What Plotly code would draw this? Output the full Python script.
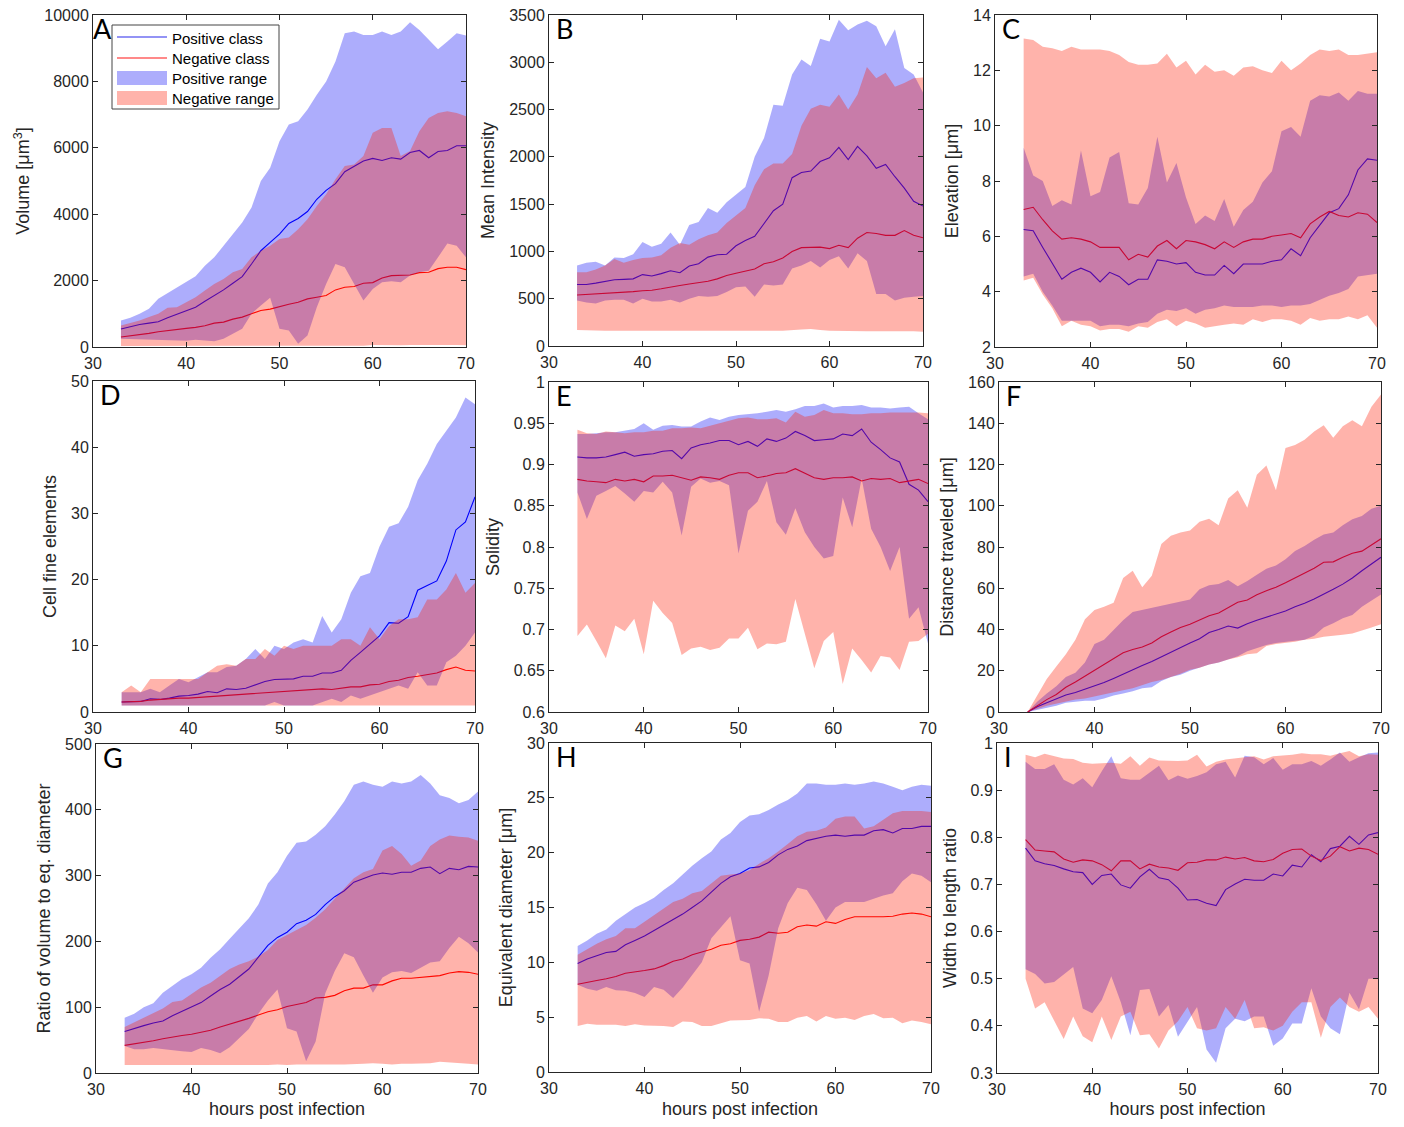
import plotly.graph_objects as go

hours = list(range(33, 71))

# ---- Panel A: Volume ----
A_pos_mean = [540,620,680,720,760,880,980,1080,1200,1380,1550,1720,1920,2120,2500,2900,3150,3400,3720,3870,4080,4450,4720,4920,5280,5450,5600,5680,5620,5700,5660,5860,5920,5700,5890,5920,6060,6060]
A_neg_mean = [300,330,370,410,460,500,520,560,590,640,720,750,840,900,1000,1100,1140,1220,1290,1350,1450,1500,1550,1720,1800,1820,1920,1940,2080,2150,2160,2170,2240,2250,2360,2400,2400,2330]
A_pos_hi = [800,880,1000,1150,1450,1620,1800,1950,2130,2450,2700,3050,3400,3750,4200,5000,5400,6200,6700,6800,7150,7600,8000,8600,9450,9500,9400,9400,9500,9400,9500,9780,9550,9250,8970,9200,9450,9380]
A_pos_lo = [250,240,230,240,220,210,200,190,220,200,170,250,400,550,1000,1250,1480,550,500,100,350,1200,1900,2500,2400,1900,1400,1750,1950,1980,1950,2150,2250,2300,2700,3120,3050,2700]
A_neg_hi = [650,720,800,900,1000,1180,1200,1350,1500,1700,1900,2050,2250,2350,2700,2900,3050,3250,3300,3550,3850,4250,4600,5050,5450,5500,5750,6450,6600,6600,5750,5900,6500,6900,7050,7100,7050,6950]
A_neg_lo = [30,30,30,30,30,30,30,30,30,30,30,30,30,30,30,30,30,40,40,40,50,40,40,40,40,40,40,60,60,60,50,60,60,80,70,60,60,50]

# ---- Panel B: Mean Intensity ----
B_pos_mean = [650,650,665,685,700,705,710,755,740,765,795,775,845,870,940,965,970,1060,1115,1160,1300,1430,1500,1780,1835,1850,1950,1990,2100,1970,2110,2010,1880,1920,1790,1670,1530,1480]
B_neg_mean = [540,545,550,555,560,565,575,585,590,605,625,640,655,670,685,710,745,770,790,815,870,890,930,1000,1040,1045,1045,1030,1065,1040,1140,1200,1190,1170,1170,1220,1170,1145]
B_pos_hi = [850,880,890,850,935,930,970,1100,1050,1080,1200,1070,1280,1310,1460,1410,1520,1600,1680,2000,2200,2550,2540,2870,3030,2960,3250,3220,3450,3340,3400,3440,3380,3170,3350,2940,2870,2680]
B_pos_lo = [480,460,450,480,490,490,450,500,470,470,490,460,500,530,520,530,570,620,630,520,650,640,650,820,850,900,830,910,950,820,980,900,550,550,480,510,520,530]
B_neg_hi = [780,780,810,850,920,880,910,930,935,960,1040,1090,1070,1130,1170,1200,1300,1380,1460,1700,1870,1930,1930,2030,2330,2510,2550,2530,2660,2500,2660,2950,2830,2890,2740,2780,2830,2840]
B_neg_lo = [170,168,165,160,160,158,158,160,160,158,158,157,157,158,158,155,157,157,160,160,160,160,162,165,175,180,170,160,160,158,157,155,155,155,155,155,157,152]

# ---- Panel C: Elevation ----
C_pos_mean = [6.25,6.2,5.6,5.0,4.45,4.7,4.85,4.7,4.35,4.7,4.55,4.25,4.45,4.45,5.15,5.1,5.0,5.05,4.7,4.6,4.6,4.95,4.65,5.0,5.0,5.0,5.1,5.15,5.55,5.3,5.95,6.4,6.85,7.0,7.5,8.4,8.8,8.75]
C_neg_mean = [6.97,7.05,6.6,6.2,5.9,5.95,5.9,5.8,5.6,5.6,5.6,5.15,5.35,5.25,5.65,5.85,5.55,5.85,5.8,5.7,5.55,5.8,5.6,5.8,5.9,5.9,6.0,6.05,6.1,5.95,6.45,6.7,6.9,6.75,6.7,6.85,6.8,6.5]
C_pos_hi = [9.2,8.2,8.0,7.1,7.3,7.15,9.1,7.45,7.6,8.85,9.05,7.2,7.15,7.75,9.6,7.95,8.65,7.4,6.45,6.75,6.55,7.35,6.35,6.95,7.25,7.95,8.35,9.8,9.95,9.6,10.9,11.1,11.05,11.2,10.9,11.25,11.15,11.15]
C_pos_lo = [4.55,4.65,4.0,3.5,2.95,2.95,2.95,2.95,2.75,2.8,2.8,2.75,2.85,2.9,3.2,3.35,3.3,3.4,3.2,3.35,3.4,3.5,3.45,3.45,3.45,3.5,3.5,3.45,3.5,3.5,3.55,3.7,3.85,3.95,4.1,4.55,4.6,4.65]
C_neg_hi = [13.15,13.1,12.85,12.8,12.7,12.85,12.75,12.75,12.75,12.7,12.55,12.3,12.2,12.2,12.25,12.6,12.1,12.35,11.85,12.2,11.95,12.0,11.8,12.1,12.15,12.0,11.9,12.35,12.0,12.25,12.55,12.75,12.7,12.75,12.55,12.55,12.6,12.65]
C_neg_lo = [4.4,4.5,3.9,3.4,2.75,2.95,2.8,2.75,2.6,2.65,2.65,2.55,2.75,2.7,2.9,3.0,2.75,2.95,2.85,2.7,2.75,2.8,2.85,2.8,3.0,2.9,3.0,3.0,2.95,2.8,3.05,2.95,3.0,3.0,3.1,3.0,3.15,2.7]

# ---- Panel D: Cell fine elements ----
D_pos_mean = [1.5,1.5,1.6,2.0,1.9,2.1,2.4,2.5,2.7,3.1,2.9,3.5,3.4,3.6,4.1,4.6,4.9,4.9,5.0,5.4,5.4,5.9,5.9,6.3,7.8,9.0,10.2,11.5,13.5,13.4,14.4,18.4,19.1,19.8,22.8,27.5,28.7,32.5]
D_neg_mean = [1.5,1.5,1.6,1.8,1.9,2.1,2.1,2.1,2.2,2.3,2.5,2.6,2.6,2.7,2.9,2.9,3.1,3.2,3.2,3.3,3.5,3.5,3.4,3.6,3.8,3.8,4.1,4.2,4.6,4.8,5.2,5.4,5.6,5.9,6.4,6.8,6.3,6.2]
D_pos_hi = [3,3,3,3.5,3,4,5,4.5,5.2,6,6,6.8,7,8,9.5,8,10,9.5,10.5,11,10.5,14.5,12,14,18,20.5,21,25,28,28.5,31,35,37.5,40.5,42.5,44.5,47.5,46.5]
D_pos_lo = [1,1,1,1,1,1,1,1,1,1,1,1,1,1,1,1,1.5,1,1,1,1,1.5,2,1.5,2.5,2,2.5,3,3.5,4,3.5,6,4,4,7.5,8.5,10,12]
D_neg_hi = [3,4,3,5,5,5,5,5,5,6,7,7.2,7,8,8,9.5,8.5,10,9.5,10,10,10,10,11,11,10,12.8,11,13,14,14,14.3,17,17,18.5,21,18,19.5]
D_neg_lo = [1,1,1,1,1,1,1,1,1,1,1,1,1,1,1,1,1,1,1,1,1,1,1,1,1,1,1,1,1,1,1,1,1,1,1,1,1,1]

# ---- Panel E: Solidity ----
E_pos_mean = [.909,.908,.908,.909,.912,.915,.910,.912,.913,.916,.917,.907,.920,.924,.926,.929,.929,.924,.928,.922,.931,.928,.932,.940,.935,.929,.930,.931,.937,.935,.943,.927,.918,.908,.903,.876,.869,.855]
E_neg_mean = [.882,.880,.879,.878,.882,.880,.882,.879,.886,.886,.887,.884,.881,.885,.884,.882,.887,.890,.890,.884,.886,.889,.890,.895,.889,.884,.882,.884,.884,.885,.880,.883,.882,.883,.878,.880,.882,.877]
E_pos_hi = [.937,.937,.938,.939,.939,.941,.943,.950,.942,.947,.948,.946,.946,.952,.957,.954,.958,.960,.961,.962,.964,.966,.964,.967,.971,.971,.974,.969,.971,.971,.972,.969,.969,.968,.969,.970,.962,.955]
E_pos_lo = [.866,.834,.862,.868,.874,.865,.855,.868,.866,.879,.866,.814,.873,.883,.878,.880,.875,.792,.844,.855,.880,.830,.815,.847,.818,.800,.786,.789,.860,.824,.883,.822,.800,.771,.800,.713,.727,.683]
E_neg_hi = [.942,.938,.937,.940,.939,.938,.939,.939,.941,.941,.944,.944,.945,.944,.947,.950,.953,.956,.957,.955,.955,.956,.951,.964,.958,.960,.966,.962,.962,.961,.961,.962,.962,.963,.963,.963,.963,.962]
E_neg_lo = [.692,.706,.686,.665,.705,.698,.713,.670,.735,.720,.708,.669,.677,.679,.675,.678,.689,.689,.702,.676,.683,.682,.685,.737,.695,.653,.686,.697,.634,.677,.663,.648,.668,.666,.651,.685,.686,.695]

# ---- Panel F: Distance traveled ----
F_pos_mean = [0,2.5,4.5,6.5,8.2,9.5,11,12.7,14.3,16.3,18.5,20.5,22.5,24.5,26.8,29,31.5,33.5,35.5,38.5,40,41.7,40.7,42.8,44.5,46,47.6,49,51,52.7,54.8,57,59.5,62,65,68.5,71.7,75]
F_neg_mean = [0,3,6,8.5,12,14.5,17.3,20.5,23,25.7,28.7,30.3,31.5,33.5,36.5,38.8,41,42.5,44.8,46.7,48,50.5,53.2,54.3,56.8,58.8,60.5,62.7,65,67,69.7,72.6,72.8,75,77,78,81,84]
F_pos_hi = [0,5,9,12.5,17,19,24,33,35,40,44.5,48.5,49.5,50.5,51.5,52.5,53.5,54.5,59.5,61.5,62,64,61,63.5,66.5,69.5,71,74,78,80.5,83.5,86,87,90.5,93.5,95,98.5,100]
F_pos_lo = [0,1,2,3,4.5,5,5.5,5.5,6.5,8,9,10,11.5,12,15,17,18,20,21.5,23,24,25.5,27,29.5,31,32.5,33.5,34,34.5,35,37,41,43,45.5,47,51,54,57]
F_neg_hi = [0,8,16,22,28,35,45,49.5,51,53,65,68.5,60.5,66,81.5,85.5,87,88,92.3,93.7,90.5,103.5,107.5,99,115,119.5,107.5,128,129.5,132,136,139,133,138.5,141.5,138.5,148,154]
F_neg_lo = [0,1.5,3,4,5,6,6.5,7.5,8.5,9.5,10.5,11.5,13,14.5,15.5,17,18.5,20.5,21.5,23,24,25.5,26.5,28,28.5,32,33,33.5,34,35,35.5,36.5,37,37.5,38,39.5,41,42.5]

# ---- Panel G: Ratio of volume to eq. diameter ----
G_pos_mean = [63,68,72,76,79,87,94,100,107,117,127,135,147,158,176,194,206,214,227,232,241,256,268,277,290,295,301,304,302,305,305,311,313,303,311,309,314,313]
G_neg_mean = [42,44,47,49,52,55,57,59,62,65,70,74,79,83,88,93,96,101,104,107,114,115,118,125,129,129,134,134,140,144,144,145,147,148,152,154,153,150]
G_pos_hi = [84,90,100,106,122,133,143,150,160,175,188,204,220,235,256,288,305,330,350,352,362,375,393,413,438,443,438,435,443,440,443,453,440,422,418,410,415,428]
G_pos_lo = [41,36,36,38,36,35,33,32,38,35,30,39,53,67,90,110,127,68,63,18,48,121,155,182,176,148,122,145,153,155,152,160,168,170,190,207,197,183]
G_neg_hi = [70,77,85,91,98,108,110,120,130,137,148,158,165,170,177,187,202,210,217,225,236,249,265,280,296,305,310,338,345,333,315,323,345,355,361,359,358,353]
G_neg_lo = [12,13,12,12,13,12,12,13,12,13,12,12,13,13,12,12,13,12,13,13,14,13,13,13,13,14,15,14,13,14,14,14,15,17,15,15,14,13]

# ---- Panel H: Equivalent diameter ----
H_pos_mean = [9.9,10.3,10.6,10.9,11.0,11.6,12.0,12.4,12.9,13.4,13.9,14.4,15.0,15.6,16.4,17.2,17.8,18.1,18.6,18.7,19.1,19.8,20.3,20.6,21.1,21.3,21.5,21.6,21.5,21.6,21.6,22.0,22.1,21.8,22.2,22.2,22.4,22.4]
H_neg_mean = [8.0,8.2,8.35,8.5,8.7,9.0,9.1,9.25,9.4,9.7,10.1,10.3,10.7,10.95,11.2,11.55,11.7,12.0,12.1,12.3,12.75,12.65,12.75,13.25,13.4,13.3,13.7,13.55,13.9,14.15,14.15,14.1,14.15,14.2,14.4,14.5,14.4,14.15]
H_pos_hi = [11.5,12.0,12.6,13.0,13.8,14.4,15.0,15.4,15.9,16.6,17.2,18.0,18.8,19.5,20.1,21.2,21.8,22.8,23.4,23.5,23.9,24.4,24.8,25.4,26.3,26.3,26.2,26.2,26.3,26.2,26.3,26.5,26.3,26.0,25.7,26.0,26.2,26.1]
H_pos_lo = [7.95,7.6,7.4,7.75,7.45,7.4,7.2,6.85,7.75,7.5,6.75,7.7,8.9,10.0,12.2,13.2,14.2,10.2,9.9,5.5,8.8,13.1,15.4,16.8,16.6,15.3,13.8,15.0,15.5,15.5,15.5,15.8,16.1,16.3,17.4,18.1,17.9,17.3]
H_neg_hi = [10.7,11.2,11.7,12.1,12.4,13.1,13.1,13.7,14.3,14.9,15.5,15.8,16.3,16.5,17.2,17.9,18.0,18.1,18.4,19.0,19.5,20.1,20.8,21.5,21.9,22.0,22.3,23.1,23.3,23.3,22.2,22.4,23.0,23.6,23.8,23.8,23.8,23.7]
H_neg_lo = [4.2,4.4,4.3,4.3,4.3,4.2,4.35,4.25,4.2,4.2,4.1,4.6,4.55,4.2,4.2,4.45,4.7,4.7,4.75,4.9,4.85,4.55,4.55,4.95,5.1,4.6,5.1,4.85,4.95,4.75,5.1,5.3,4.9,4.95,4.45,4.7,4.55,4.35]

# ---- Panel I: Width to length ratio ----
I_pos_mean = [.777,.750,.744,.740,.733,.727,.725,.700,.719,.722,.699,.692,.716,.732,.714,.710,.692,.667,.668,.660,.655,.689,.701,.711,.709,.709,.722,.718,.741,.737,.763,.748,.776,.781,.802,.785,.805,.810]
I_neg_mean = [.795,.773,.771,.769,.754,.747,.752,.750,.742,.729,.750,.750,.733,.743,.737,.735,.730,.746,.747,.752,.752,.758,.754,.757,.750,.748,.753,.766,.774,.775,.760,.751,.760,.780,.771,.777,.774,.764]
I_pos_hi = [.960,.945,.945,.955,.922,.912,.925,.906,.940,.972,.925,.922,.922,.937,.952,.921,.931,.924,.930,.938,.955,.960,.927,.973,.970,.955,.968,.943,.955,.955,.962,.952,.965,.980,.960,.970,.978,.980]
I_pos_lo = [.52,.51,.49,.493,.51,.525,.437,.427,.455,.505,.45,.38,.476,.478,.42,.444,.377,.407,.44,.35,.322,.395,.415,.41,.42,.42,.358,.373,.405,.405,.48,.42,.395,.382,.47,.435,.50,.50]
I_neg_hi = [.975,.970,.977,.972,.967,.966,.958,.956,.957,.958,.956,.972,.952,.969,.963,.962,.962,.963,.975,.950,.960,.965,.968,.970,.972,.965,.972,.973,.975,.978,.976,.976,.973,.978,.983,.972,.976,.975]
I_neg_lo = [.50,.437,.45,.41,.372,.42,.378,.365,.42,.37,.42,.43,.38,.382,.352,.39,.41,.44,.395,.39,.395,.44,.415,.455,.395,.397,.39,.40,.43,.45,.45,.375,.44,.46,.44,.43,.44,.415]

legend_labels = ["Positive class", "Negative class", "Positive range", "Negative range"]

panels = [
    ("A", "Volume [μm<sup>3</sup>]", [0, 10000], 2000, "d", A_pos_mean, A_neg_mean, A_pos_lo, A_pos_hi, A_neg_lo, A_neg_hi),
    ("B", "Mean Intensity", [0, 3500], 500, "d", B_pos_mean, B_neg_mean, B_pos_lo, B_pos_hi, B_neg_lo, B_neg_hi),
    ("C", "Elevation [μm]", [2, 14], 2, "d", C_pos_mean, C_neg_mean, C_pos_lo, C_pos_hi, C_neg_lo, C_neg_hi),
    ("D", "Cell fine elements", [0, 50], 10, "d", D_pos_mean, D_neg_mean, D_pos_lo, D_pos_hi, D_neg_lo, D_neg_hi),
    ("E", "Solidity", [0.6, 1], 0.05, "", E_pos_mean, E_neg_mean, E_pos_lo, E_pos_hi, E_neg_lo, E_neg_hi),
    ("F", "Distance traveled [μm]", [0, 160], 20, "d", F_pos_mean, F_neg_mean, F_pos_lo, F_pos_hi, F_neg_lo, F_neg_hi),
    ("G", "Ratio of volume to eq. diameter", [0, 500], 100, "d", G_pos_mean, G_neg_mean, G_pos_lo, G_pos_hi, G_neg_lo, G_neg_hi),
    ("H", "Equivalent diameter [μm]", [0, 30], 5, "d", H_pos_mean, H_neg_mean, H_pos_lo, H_pos_hi, H_neg_lo, H_neg_hi),
    ("I", "Width to length ratio", [0.3, 1], 0.1, "", I_pos_mean, I_neg_mean, I_pos_lo, I_pos_hi, I_neg_lo, I_neg_hi),
]

# page has an 8px body margin; figure is sized so that the page is exactly 1404x1127
OFF = 8
W, H = 1404 - 2 * OFF, 1127 - 2 * OFF
# axes boxes in screen pixels (left, right, top, bottom)
boxes = [
    (93, 466, 15, 347), (549, 923, 15, 346), (995, 1377, 15, 347),
    (93, 475, 381, 712), (549, 928, 382, 712), (999, 1381, 382, 712),
    (96, 478, 744, 1073), (549, 931, 743, 1072), (997, 1378, 743, 1073),
]
def fx(px):
    return (px - OFF) / W
def fy(py):
    return 1 - (py - OFF) / H

POS_LINE = "rgb(0,0,255)"
NEG_LINE = "rgb(255,0,0)"
POS_FILL = "rgba(0,0,245,0.32)"
NEG_FILL = "rgba(255,25,0,0.33)"
FONT = "Liberation Sans, Arial, sans-serif"
AX = "#262626"

fig = go.Figure()
layout = {}
annotations = []
shapes = []
for i, (letter, ytitle, yr, dt, tf, pm, nm, plo, phi, nlo, nhi) in enumerate(panels):
    k = i + 1
    xa = "x" if k == 1 else f"x{k}"
    ya = "y" if k == 1 else f"y{k}"
    fig.add_trace(go.Scatter(x=hours, y=pm, mode="lines", line=dict(color=POS_LINE, width=1.1),
                             name=legend_labels[0], showlegend=False, xaxis=xa, yaxis=ya, hoverinfo="skip"))
    fig.add_trace(go.Scatter(x=hours, y=nm, mode="lines", line=dict(color=NEG_LINE, width=1.1),
                             name=legend_labels[1], showlegend=False, xaxis=xa, yaxis=ya, hoverinfo="skip"))
    fig.add_trace(go.Scatter(x=hours + hours[::-1], y=phi + plo[::-1], mode="lines", fill="toself",
                             fillcolor=POS_FILL, line=dict(width=0, color=POS_FILL),
                             name=legend_labels[2], showlegend=False, xaxis=xa, yaxis=ya, hoverinfo="skip"))
    fig.add_trace(go.Scatter(x=hours + hours[::-1], y=nhi + nlo[::-1], mode="lines", fill="toself",
                             fillcolor=NEG_FILL, line=dict(width=0, color=NEG_FILL),
                             name=legend_labels[3], showlegend=False, xaxis=xa, yaxis=ya, hoverinfo="skip"))
    l, r, t, b = boxes[i]
    xkey = "xaxis" if k == 1 else f"xaxis{k}"
    ykey = "yaxis" if k == 1 else f"yaxis{k}"
    xdict = dict(domain=[fx(l), fx(r)], anchor=ya, range=[30, 70], dtick=10, tick0=30,
                 ticks="inside", ticklen=5, tickcolor=AX, mirror="allticks", showline=True,
                 linecolor=AX, linewidth=1, showgrid=False, zeroline=False, automargin=False,
                 ticklabeloverflow="allow", ticklabelstandoff=2,
                 tickfont=dict(size=16, color=AX, family=FONT))
    if k >= 7:
        xdict["title"] = dict(text="hours post infection",
                              font=dict(size=18, color=AX, family=FONT), standoff=17)
    layout[xkey] = xdict
    ydict = dict(domain=[fy(b), fy(t)], anchor=xa, range=yr, dtick=dt, tick0=yr[0],
                 ticks="inside", ticklen=5, tickcolor=AX, mirror="allticks", showline=True,
                 linecolor=AX, linewidth=1, showgrid=False, zeroline=False, automargin=False,
                 exponentformat="none", ticklabeloverflow="allow",
                 tickfont=dict(size=16, color=AX, family=FONT),
                 title=dict(text=ytitle, font=dict(size=18, color=AX, family=FONT), standoff=9))
    if tf:
        ydict["tickformat"] = tf
    layout[ykey] = ydict
    annotations.append(dict(text=letter, xref=f"{xa} domain", yref=f"{ya} domain", x=0, y=1,
                            xanchor="left", yanchor="top", xshift=(-2 if k == 1 else 5), yshift=5,
                            showarrow=False,
                            font=dict(size=27, color="black", family="Lato, Liberation Sans, sans-serif")))

# legend drawn in panel A (box, samples and labels)
shapes.append(dict(type="rect", xref="paper", yref="paper", x0=fx(112), x1=fx(279), y0=fy(109), y1=fy(25),
                   line=dict(color="#444444", width=1), fillcolor="white", layer="above"))
shapes.append(dict(type="line", xref="paper", yref="paper", x0=fx(117), x1=fx(167), y0=fy(37), y1=fy(37),
                   line=dict(color="rgb(40,40,235)", width=1.2), layer="above"))
shapes.append(dict(type="line", xref="paper", yref="paper", x0=fx(117), x1=fx(167), y0=fy(58), y1=fy(58),
                   line=dict(color="rgb(255,20,20)", width=1.2), layer="above"))
shapes.append(dict(type="rect", xref="paper", yref="paper", x0=fx(117), x1=fx(167), y0=fy(85), y1=fy(71),
                   line=dict(width=0), fillcolor=POS_FILL, layer="above"))
shapes.append(dict(type="rect", xref="paper", yref="paper", x0=fx(117), x1=fx(167), y0=fy(105), y1=fy(91),
                   line=dict(width=0), fillcolor=NEG_FILL, layer="above"))
for lab, yc in zip(legend_labels, [38, 58, 78.5, 98.5]):
    annotations.append(dict(text=lab, xref="paper", yref="paper", x=fx(170), y=fy(yc),
                            xanchor="left", yanchor="middle", showarrow=False,
                            font=dict(size=15, color="black", family=FONT)))

fig.update_layout(
    width=W, height=H,
    margin=dict(l=0, r=0, t=0, b=0, pad=0, autoexpand=False),
    paper_bgcolor="white", plot_bgcolor="white",
    showlegend=False,
    annotations=annotations,
    shapes=shapes,
    **layout,
)

fig.write_html("out.html")
